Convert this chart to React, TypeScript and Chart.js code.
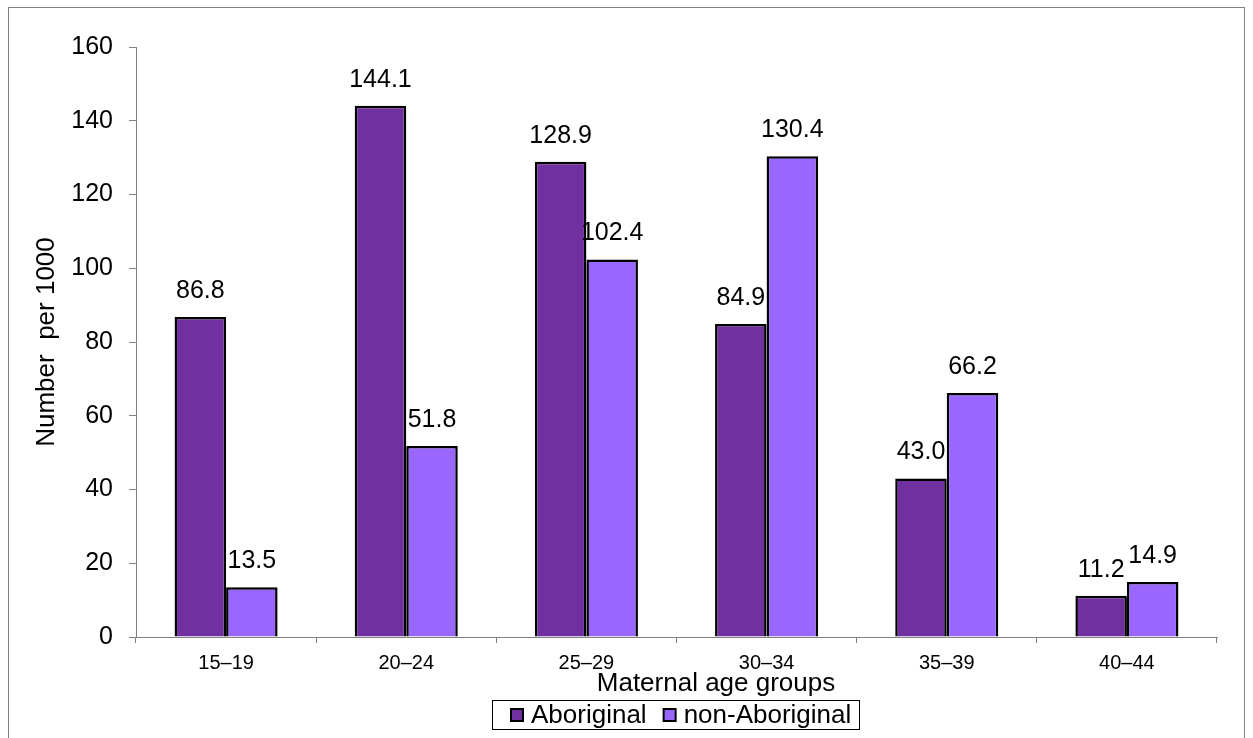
import React, { useEffect, useRef } from "react";
import { Chart, registerables } from "chart.js";

Chart.register(...registerables);

const categories = ["15–19", "20–24", "25–29", "30–34", "35–39", "40–44"];
const aboriginal = [86.8, 144.1, 128.9, 84.9, 43.0, 11.2];
const nonAboriginal = [13.5, 51.8, 102.4, 130.4, 66.2, 14.9];
const seriesNames = ["Aboriginal", "non-Aboriginal"];
const seriesColors = ["#7030A0", "#9966FF"];
const yTitle = "Number  per 1000";
const xTitle = "Maternal age groups";

const FONT = "Arial, 'Liberation Sans', sans-serif";

const decorPlugin = {
  id: "decor",
  afterDraw(chart: any) {
    const ctx = chart.ctx as CanvasRenderingContext2D;
    const area = chart.chartArea;
    ctx.save();
    // outer frame
    ctx.strokeStyle = "#808080";
    ctx.lineWidth = 1;
    ctx.strokeRect(8.5, 7.5, 1236, 800);

    // data labels
    ctx.fillStyle = "#000";
    ctx.font = `25px ${FONT}`;
    ctx.textAlign = "center";
    ctx.textBaseline = "alphabetic";
    chart.data.datasets.forEach((ds: any, di: number) => {
      const meta = chart.getDatasetMeta(di);
      meta.data.forEach((bar: any, i: number) => {
        const v = ds.data[i] as number;
        ctx.fillText(v.toFixed(1), bar.x, bar.y - 19);
      });
    });

    // y title
    ctx.save();
    ctx.translate(47, (area.top + area.bottom) / 2);
    ctx.rotate(-Math.PI / 2);
    ctx.font = `26px ${FONT}`;
    ctx.textAlign = "center";
    ctx.textBaseline = "middle";
    ctx.fillText(yTitle, 0, 0);
    ctx.restore();

    // x title
    ctx.font = `26px ${FONT}`;
    ctx.textAlign = "center";
    ctx.textBaseline = "middle";
    ctx.fillText(xTitle, 716, 684);

    // legend
    ctx.strokeStyle = "#000";
    ctx.lineWidth = 1;
    ctx.fillStyle = "#fff";
    ctx.fillRect(492.5, 700.5, 367, 29);
    ctx.strokeRect(492.5, 700.5, 367, 29);
    ctx.font = `26px ${FONT}`;
    ctx.textAlign = "left";
    ctx.textBaseline = "middle";
    let x = 511;
    seriesNames.forEach((name, i) => {
      ctx.fillStyle = seriesColors[i];
      ctx.fillRect(x, 709, 12, 12);
      ctx.lineWidth = 2;
      ctx.strokeStyle = "#000";
      ctx.strokeRect(x, 709, 12, 12);
      ctx.fillStyle = "#000";
      ctx.fillText(name, x + 20, 716);
      x += 20 + ctx.measureText(name).width + 17;
    });
    ctx.restore();
  },
};

export default function App() {
  const ref = useRef<HTMLCanvasElement | null>(null);
  useEffect(() => {
    if (!ref.current) return;
    const chart = new Chart(ref.current, {
      type: "bar",
      data: {
        labels: categories,
        datasets: [
          {
            label: seriesNames[0],
            data: aboriginal,
            backgroundColor: seriesColors[0],
            borderColor: "#000",
            borderWidth: 2.5,
            categoryPercentage: 0.572,
            barPercentage: 1,
          },
          {
            label: seriesNames[1],
            data: nonAboriginal,
            backgroundColor: seriesColors[1],
            borderColor: "#000",
            borderWidth: 2.5,
            categoryPercentage: 0.572,
            barPercentage: 1,
          },
        ],
      },
      options: {
        animation: false,
        responsive: false,
        maintainAspectRatio: false,
        layout: { padding: { top: 47, right: 36, left: 0, bottom: 0 } },
        plugins: {
          legend: { display: false },
          tooltip: { enabled: false },
          title: { display: false },
        },
        scales: {
          x: {
            offset: true,
            grid: {
              offset: true,
              drawOnChartArea: false,
              drawTicks: true,
              tickLength: 6,
              color: "#808080",
            },
            border: { color: "#808080", width: 1 },
            ticks: {
              color: "#000",
              font: { family: FONT, size: 20 },
              padding: 8,
              maxRotation: 0,
              autoSkip: false,
            },
            afterFit: (s: any) => {
              s.height = 101;
            },
          },
          y: {
            min: 0,
            max: 160,
            grid: {
              drawOnChartArea: false,
              drawTicks: true,
              tickLength: 7,
              color: "#808080",
            },
            border: { color: "#808080", width: 1 },
            ticks: {
              stepSize: 20,
              color: "#000",
              font: { family: FONT, size: 25 },
              padding: 16,
            },
            afterFit: (s: any) => {
              s.width = 136;
            },
          },
        },
      },
      plugins: [decorPlugin],
    });
    return () => chart.destroy();
  }, []);
  return (
    <div style={{ position: "absolute", left: 0, top: 0, width: 1253, height: 738, background: "#fff" }}>
      <canvas ref={ref} width={1253} height={738} style={{ display: "block" }} />
    </div>
  );
}
